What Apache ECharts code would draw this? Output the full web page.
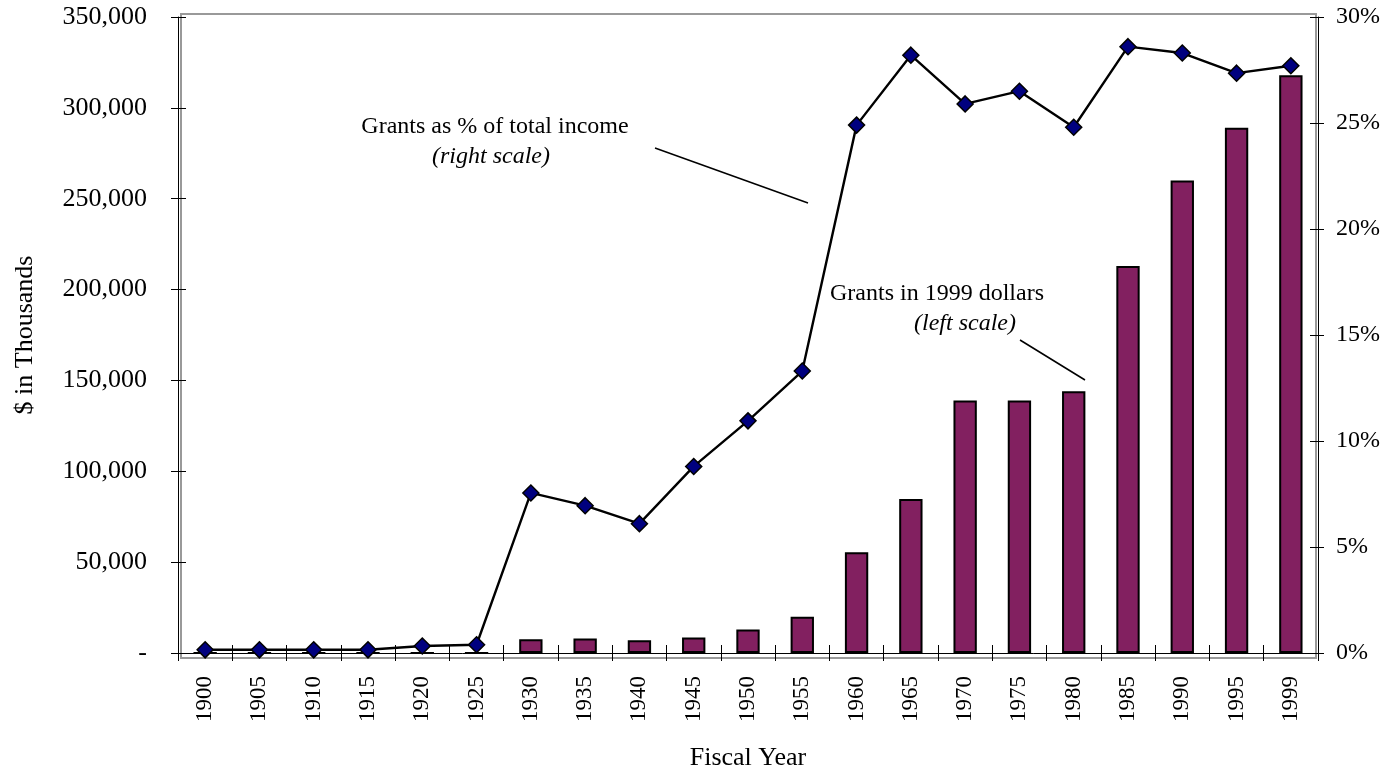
<!DOCTYPE html>
<html><head><meta charset="utf-8">
<script src="https://cdn.jsdelivr.net/npm/echarts@6/dist/echarts.min.js"></script>
<style>html,body{margin:0;padding:0;background:#fff}#c{width:1391px;height:776px}</style>
</head><body><div id="c"></div>
<script>
const years = ['1900','1905','1910','1915','1920','1925','1930','1935','1940','1945','1950','1955','1960','1965','1970','1975','1980','1985','1990','1995','1999'];
const grantsDollars = [0,0,0,0,0,0,7600,8000,7000,8500,13000,20000,55400,84800,139000,139000,144000,213000,260000,289000,318000];
const grantsPct = [0.15,0.15,0.15,0.15,0.33,0.39,7.55,6.95,6.1,8.8,10.95,13.3,24.9,28.2,25.9,26.5,24.8,28.6,28.3,27.35,27.7];
const leftTicks = {min:0,max:350000,interval:50000};
const rightTicks = {min:0,max:30,interval:5};

const F = 'Liberation Serif, Times New Roman, serif';
const chart = echarts.init(document.getElementById('c'));
const txt = s => ({fontFamily:F,fontSize:s,color:'#000'});
chart.setOption({
  animation:false,
  grid:{left:178,right:73,top:17,bottom:115,containLabel:false},
  xAxis:[{
    type:'category',data:years,position:'bottom',
    name:'Fiscal Year',nameLocation:'middle',nameGap:92,nameTextStyle:txt(26),
    axisLine:{lineStyle:{color:'#000',width:1}},
    axisTick:{show:true,alignWithLabel:false,length:8,lineStyle:{color:'#000'}},
    axisLabel:Object.assign({rotate:90,margin:23,interval:0},txt(23)),
    splitLine:{show:false}
  },{
    type:'category',data:years,position:'bottom',
    axisLine:{show:false},
    axisTick:{show:true,inside:true,alignWithLabel:false,length:8,lineStyle:{color:'#000'}},
    axisLabel:{show:false},splitLine:{show:false}
  }],
  yAxis:[{
    type:'value',min:leftTicks.min,max:leftTicks.max,interval:leftTicks.interval,position:'left',
    name:'$ in Thousands',nameLocation:'middle',nameGap:140,nameTextStyle:txt(26),
    axisLine:{show:true,lineStyle:{color:'#000'}},
    axisTick:{show:true,length:7,lineStyle:{color:'#000'}},
    axisLabel:Object.assign({margin:31,formatter:v=>v===0?'-':v.toLocaleString('en-US')},txt(26)),
    splitLine:{show:false}
  },{
    type:'value',min:rightTicks.min,max:rightTicks.max,interval:rightTicks.interval,position:'right',
    axisLine:{show:true,lineStyle:{color:'#000'}},
    axisTick:{show:true,length:6,lineStyle:{color:'#000'}},
    axisLabel:Object.assign({margin:18,formatter:v=>v+'%'},txt(24)),
    splitLine:{show:false}
  },{
    type:'value',min:leftTicks.min,max:leftTicks.max,interval:leftTicks.interval,position:'left',
    axisLine:{show:false},axisTick:{show:true,inside:true,length:8,lineStyle:{color:'#000'}},
    axisLabel:{show:false},splitLine:{show:false}
  },{
    type:'value',min:rightTicks.min,max:rightTicks.max,interval:rightTicks.interval,position:'right',
    axisLine:{show:false},axisTick:{show:true,inside:true,length:8,lineStyle:{color:'#000'}},
    axisLabel:{show:false},splitLine:{show:false}
  }],
  graphic:[
    {type:'rect',shape:{x:181,y:14,width:1135,height:644},style:{fill:'none',stroke:'#999',lineWidth:2},z:0,silent:true},
    {type:'text',x:495,y:127,style:{text:'Grants as % of total income',font:'24px '+F,fill:'#000',textAlign:'center',textVerticalAlign:'middle'}},
    {type:'text',x:491,y:157,style:{text:'(right scale)',font:'italic 24px '+F,fill:'#000',textAlign:'center',textVerticalAlign:'middle'}},
    {type:'line',shape:{x1:655,y1:148,x2:808,y2:203},style:{stroke:'#000',lineWidth:1.5}},
    {type:'text',x:937,y:294,style:{text:'Grants in 1999 dollars',font:'24px '+F,fill:'#000',textAlign:'center',textVerticalAlign:'middle'}},
    {type:'text',x:965,y:324,style:{text:'(left scale)',font:'italic 24px '+F,fill:'#000',textAlign:'center',textVerticalAlign:'middle'}},
    {type:'line',shape:{x1:1020,y1:340,x2:1085,y2:380},style:{stroke:'#000',lineWidth:1.5}}
  ],
  series:[{
    type:'bar',data:grantsDollars,xAxisIndex:0,yAxisIndex:0,barWidth:'43%',
    itemStyle:{color:'#822060',borderColor:'#000',borderWidth:2},z:2
  },{
    type:'line',data:grantsPct,xAxisIndex:0,yAxisIndex:1,
    symbol:'diamond',symbolSize:16,
    lineStyle:{color:'#000',width:2.4},
    itemStyle:{color:'#00007f',borderColor:'#000',borderWidth:1.5},z:3
  }]
});
</script></body></html>
